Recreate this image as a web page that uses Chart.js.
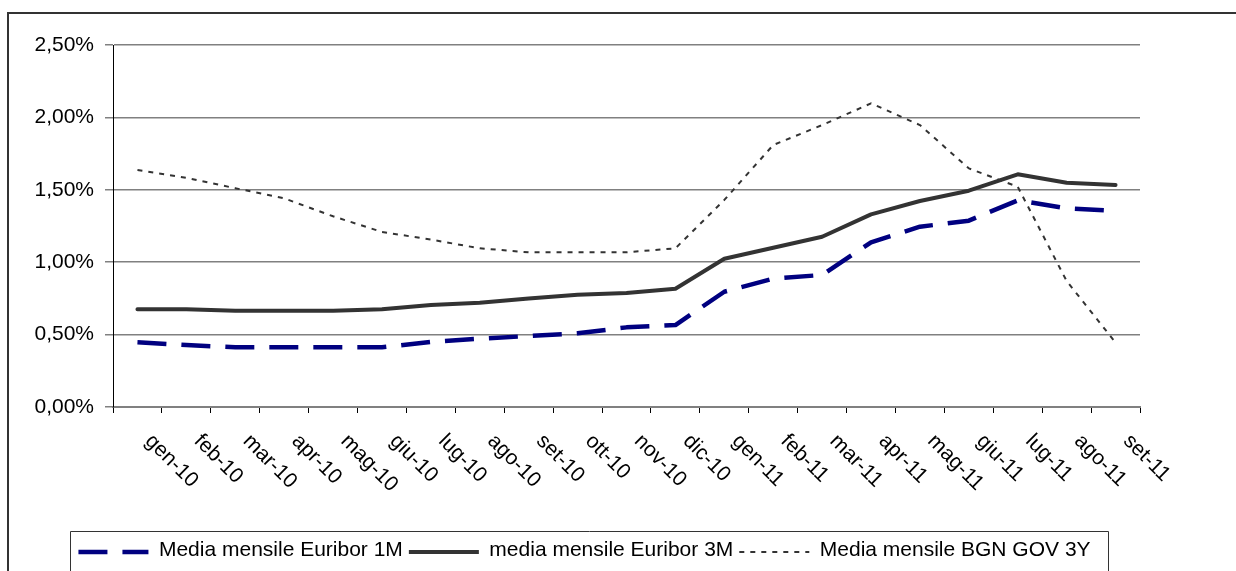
<!DOCTYPE html>
<html>
<head>
<meta charset="utf-8">
<title>Euribor e BGN GOV 3Y – medie mensili</title>
<script src="https://cdn.jsdelivr.net/npm/chart.js@4.4.1/dist/chart.umd.min.js"></script>
<style>
  html, body { margin: 0; padding: 0; background: #ffffff; }
  #wrap { width: 1236px; height: 571px; position: relative; }
</style>
</head>
<body>
<div id="wrap"><canvas id="rates"></canvas></div>
<script>
// Mesi (asse delle categorie)
const months = [
  'gen-10', 'feb-10', 'mar-10', 'apr-10', 'mag-10', 'giu-10', 'lug-10',
  'ago-10', 'set-10', 'ott-10', 'nov-10', 'dic-10', 'gen-11', 'feb-11',
  'mar-11', 'apr-11', 'mag-11', 'giu-11', 'lug-11', 'ago-11', 'set-11'
];

// Medie mensili, valori in punti percentuali
const euribor1M = [
  0.447, 0.428, 0.412, 0.412, 0.412, 0.412, 0.450, 0.472, 0.490, 0.509, 0.550,
  0.566, 0.796, 0.886, 0.912, 1.137, 1.245, 1.287, 1.427, 1.372, 1.354
];
const euribor3M = [
  0.675, 0.675, 0.664, 0.664, 0.664, 0.675, 0.704, 0.720, 0.750, 0.776, 0.787,
  0.817, 1.024, 1.100, 1.176, 1.330, 1.423, 1.494, 1.607, 1.549, 1.533
];
const bgnGov3Y = [
  1.637, 1.582, 1.511, 1.441, 1.317, 1.209, 1.156, 1.096, 1.068, 1.068, 1.068,
  1.096, 1.430, 1.809, 1.947, 2.097, 1.947, 1.648, 1.521, 0.870, 0.445
];

// Nomi delle serie in legenda
const seriesNames = [
  'Media mensile Euribor 1M',
  'media mensile Euribor 3M',
  'Media mensile BGN GOV 3Y'
];

// Asse Y: intervallo e passo
const yMin = 0;
const yMax = 2.5;
const yStep = 0.5;

const FONT_FAMILY = '"Liberation Sans", Arial, sans-serif';
const FONT_SIZE = 21;
const SAMPLE_WIDTH = 70;

Chart.defaults.color = '#000000';
Chart.defaults.font.family = FONT_FAMILY;
Chart.defaults.font.size = FONT_SIZE;

const fmtPercent = v => v.toFixed(2).replace('.', ',') + '%';

// Cornice esterna (solo lati superiore e sinistro visibili), riquadro della legenda
// e campioni di linea della legenda con il tratteggio di ciascuna serie
const frames = {
  id: 'frames',
  beforeDraw(chart) {
    const ctx = chart.ctx;
    ctx.save();
    ctx.strokeStyle = '#333333';
    ctx.lineWidth = 2;
    ctx.beginPath();
    ctx.moveTo(8, chart.height + 2);
    ctx.lineTo(8, 13);
    ctx.lineTo(chart.width + 2, 13);
    ctx.stroke();
    ctx.restore();
  },
  afterDraw(chart) {
    const lg = chart.legend;
    if (!lg || !lg.legendHitBoxes || !lg.legendHitBoxes.length) return;
    const boxes = lg.legendHitBoxes;
    const first = boxes[0];
    const last = boxes[boxes.length - 1];
    const ctx = chart.ctx;
    ctx.save();
    ctx.strokeStyle = '#333333';
    ctx.lineWidth = 1;
    const left = Math.round(first.left - 8) + 0.5;
    const right = Math.round(last.left + last.width + 17) + 0.5;
    const top = Math.round(lg.top - 3) + 0.5;
    ctx.beginPath();
    ctx.moveTo(left, chart.height + 2);
    ctx.lineTo(left, top);
    ctx.lineTo(right, top);
    ctx.lineTo(right, chart.height + 2);
    ctx.stroke();

    boxes.forEach((hb, i) => {
      const ds = chart.data.datasets[i];
      const y = hb.top + FONT_SIZE / 2 + 1.5;
      ctx.save();
      ctx.strokeStyle = ds.borderColor;
      ctx.lineWidth = ds.borderWidth;
      ctx.lineCap = 'butt';
      ctx.setLineDash(ds.borderDash || []);
      ctx.beginPath();
      ctx.moveTo(hb.left, y);
      ctx.lineTo(hb.left + SAMPLE_WIDTH, y);
      ctx.stroke();
      ctx.restore();
    });
    ctx.restore();
  }
};

// Etichette dei mesi inclinate di 45° verso il basso
const slantedMonths = {
  id: 'slantedMonths',
  afterDraw(chart) {
    const xs = chart.scales.x;
    const ctx = chart.ctx;
    ctx.save();
    ctx.font = FONT_SIZE + 'px ' + FONT_FAMILY;
    ctx.fillStyle = '#000000';
    ctx.textAlign = 'left';
    ctx.textBaseline = 'middle';
    xs.ticks.forEach((t, i) => {
      const x = xs.getPixelForTick(i) + 11;
      const y = chart.chartArea.bottom + 31;
      ctx.save();
      ctx.translate(x, y);
      ctx.rotate(Math.PI / 4);
      ctx.fillText(xs.getLabelForValue(t.value), 0, 0);
      ctx.restore();
    });
    ctx.restore();
  }
};

new Chart(document.getElementById('rates'), {
  type: 'line',
  data: {
    labels: months,
    datasets: [
      {
        label: seriesNames[0],
        data: euribor1M,
        borderColor: '#000080',
        backgroundColor: '#000080',
        borderWidth: 4.5,
        borderDash: [29, 15],
        borderCapStyle: 'butt',
        borderJoinStyle: 'round'
      },
      {
        label: seriesNames[1],
        data: euribor3M,
        borderColor: '#333333',
        backgroundColor: '#333333',
        borderWidth: 4,
        borderCapStyle: 'round',
        borderJoinStyle: 'round'
      },
      {
        label: seriesNames[2],
        data: bgnGov3Y,
        borderColor: '#333333',
        backgroundColor: '#333333',
        borderWidth: 2,
        borderDash: [5, 6],
        borderCapStyle: 'butt',
        borderJoinStyle: 'round'
      }
    ]
  },
  options: {
    responsive: true,
    maintainAspectRatio: false,
    animation: false,
    events: [],
    elements: {
      point: { radius: 0, hoverRadius: 0 },
      line: { tension: 0, fill: false }
    },
    layout: {
      padding: { left: 29, right: 96, top: 45, bottom: 0 }
    },
    plugins: {
      title: { display: false },
      tooltip: { enabled: false },
      legend: {
        display: true,
        position: 'bottom',
        align: 'center',
        labels: {
          boxWidth: SAMPLE_WIDTH,
          boxHeight: 4,
          padding: 6,
          color: '#000000',
          font: { size: FONT_SIZE, family: FONT_FAMILY },
          // il campione di linea viene tracciato dal plugin "frames"
          generateLabels(chart) {
            return chart.data.datasets.map((ds, i) => ({
              text: ds.label,
              datasetIndex: i,
              fillStyle: 'rgba(0,0,0,0)',
              strokeStyle: 'rgba(0,0,0,0)',
              lineWidth: 0,
              hidden: false,
              fontColor: '#000000'
            }));
          }
        }
      }
    },
    scales: {
      x: {
        type: 'category',
        offset: true,
        afterFit(scale) { scale.height = 127; },
        grid: {
          display: true,
          offset: true,
          drawOnChartArea: false,
          drawTicks: true,
          tickLength: 6,
          color: '#000000',
          lineWidth: 1
        },
        border: { display: true, color: '#808080', width: 2 },
        ticks: { display: false }
      },
      y: {
        min: yMin,
        max: yMax,
        afterFit(scale) { scale.width = 84; },
        grid: {
          color: '#808080',
          lineWidth: 1.5,
          drawTicks: true,
          tickLength: 8,
          tickColor: '#808080'
        },
        border: { display: true, color: '#000000', width: 1 },
        ticks: {
          stepSize: yStep,
          padding: 11,
          color: '#000000',
          font: { size: FONT_SIZE, family: FONT_FAMILY },
          callback: v => fmtPercent(v)
        }
      }
    }
  },
  plugins: [frames, slantedMonths]
});
</script>
</body>
</html>
